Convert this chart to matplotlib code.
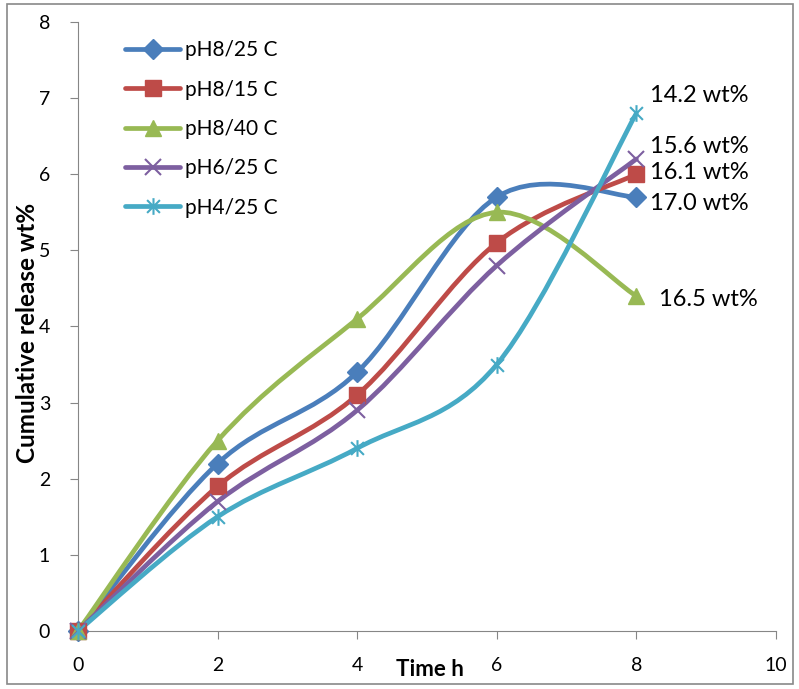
import numpy as np
import matplotlib
matplotlib.use("Agg")
import matplotlib.pyplot as plt
from matplotlib.path import Path
from matplotlib.patches import PathPatch, Rectangle
from matplotlib.lines import Line2D

plt.rcParams['font.family'] = ['Lato', 'DejaVu Sans']

# donnees
time_h = [0, 2, 4, 6, 8]
labels = ["pH8/25 C", "pH8/15 C", "pH8/40 C", "pH6/25 C", "pH4/25 C"]
ph8_25 = [0, 2.2, 3.4, 5.7, 5.7]
ph8_15 = [0, 1.9, 3.1, 5.1, 6.0]
ph8_40 = [0, 2.5, 4.1, 5.5, 4.4]
ph6_25 = [0, 1.7, 2.9, 4.8, 6.2]
ph4_25 = [0, 1.5, 2.4, 3.5, 6.8]
end_labels = ["17.0 wt%", "16.1 wt%", "16.5 wt%", "15.6 wt%", "14.2 wt%"]
end_label_pos = [(8.2, 5.62), (8.2, 6.02), (8.33, 4.35), (8.2, 6.36), (8.2, 7.04)]

series = [ph8_25, ph8_15, ph8_40, ph6_25, ph4_25]
colors = ["#4A7EBB", "#BE4B48", "#98B954", "#7D5FA0", "#46AAC5"]

# marqueur etoile facon Excel (x + barre verticale)
star = Path([(-1, -1), (1, 1), (-1, 1), (1, -1), (0, -1.3), (0, 1.3)],
            [Path.MOVETO, Path.LINETO, Path.MOVETO, Path.LINETO, Path.MOVETO, Path.LINETO])
markers = ["D", "s", "^", "x", star]
msizes = [10, 12, 12, 12, 12]


def smooth_path(x, y):
    # courbe de Bezier lissee comme dans Excel (controle = pente/6)
    pts = np.column_stack([x, y]).astype(float)
    n = len(pts)
    verts = [pts[0]]
    codes = [Path.MOVETO]
    for i in range(n - 1):
        p0 = pts[i - 1] if i > 0 else pts[i]
        p1 = pts[i]
        p2 = pts[i + 1]
        p3 = pts[i + 2] if i + 2 < n else pts[i + 1]
        verts += [p1 + (p2 - p0) / 6, p2 - (p3 - p1) / 6, p2]
        codes += [Path.CURVE4] * 3
    return Path(verts, codes)


fig = plt.figure(figsize=(7.99, 6.89), dpi=100)
ax = fig.add_axes([0.0976, 0.0842, 0.8735, 0.8839])

handles = []
for ys, c, m, ms, lab in zip(series, colors, markers, msizes, labels):
    ax.add_patch(PathPatch(smooth_path(time_h, ys), fill=False, edgecolor=c, lw=3.4,
                           capstyle="round", zorder=2))
    if m == "x" or m is star:
        ax.plot(time_h, ys, ls="none", marker=m, ms=ms, mec=c, mew=1.5, zorder=3, clip_on=False)
        h = Line2D([], [], color=c, lw=3.4, marker=m, ms=ms, mec=c, mew=1.5, solid_capstyle="round")
    else:
        ax.plot(time_h, ys, ls="none", marker=m, ms=ms, mfc=c, mec=c, zorder=3, clip_on=False)
        h = Line2D([], [], color=c, lw=3.4, marker=m, ms=ms, mfc=c, mec=c, solid_capstyle="round")
    handles.append(h)

for txt, (tx, ty) in zip(end_labels, end_label_pos):
    ax.text(tx, ty, txt, fontsize=17, va="center", ha="left")

ax.set_xlim(0, 10)
ax.set_ylim(0, 8)
ax.set_xticks(range(0, 11, 2))
ax.set_yticks(range(0, 9))
for s in ["top", "right"]:
    ax.spines[s].set_visible(False)
for s in ["left", "bottom"]:
    ax.spines[s].set_color("#868686")
ax.tick_params(axis="both", direction="out", length=6, color="#868686", labelsize=14)
ax.tick_params(axis="x", pad=13)
ax.tick_params(axis="y", pad=14)

ax.set_ylabel("Cumulative release wt%", fontsize=17.5, fontweight="bold")
ax.yaxis.set_label_coords(-0.056, 0.49)
ax.set_xlabel("Time h", fontsize=16, fontweight="bold")
ax.xaxis.set_label_coords(0.504, -0.046)

ax.legend(handles, labels, loc="upper left", bbox_to_anchor=(0.068, 0.970), frameon=False,
          fontsize=15, handlelength=2.6, labelspacing=0.93, handletextpad=0.25,
          borderpad=0, borderaxespad=0)

fig.patches.append(Rectangle((0.009, 0.007), 0.983, 0.987, transform=fig.transFigure,
                             fill=False, edgecolor="#898989", lw=1.2))

fig.savefig("out.png", dpi=100)
